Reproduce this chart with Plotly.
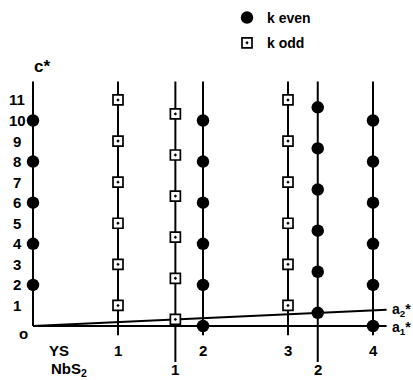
import plotly.graph_objects as go

# ---------------- data ----------------
# YS reciprocal-lattice rows: h index and the c* (l) values carrying a spot
ys_h = [0, 1, 2, 3, 4]
ys_l = {
    0: [2, 4, 6, 8, 10],
    1: [1, 3, 5, 7, 9, 11],
    2: [0, 2, 4, 6, 8, 10],
    3: [1, 3, 5, 7, 9, 11],
    4: [0, 2, 4, 6, 8, 10],
}
ys_kind = {0: "even", 1: "odd", 2: "even", 3: "odd", 4: "even"}

# NbS2 rows (measured from the a2* axis along c*)
nbs2_h = [1, 2]
nbs2_l = {
    1: [0, 2, 4, 6, 8, 10],
    2: [0, 2, 4, 6, 8, 10],
}
nbs2_kind = {1: "odd", 2: "even"}

# lattice geometry, in YS units
nbs2_a = 1.675      # NbS2 a* length measured in YS a* units
nbs2_rise = 0.32    # c* rise of the a2* axis per NbS2 a*
c_top = 11.9        # top end of the rods
ys_bottom = -0.45   # bottom end of the YS rods (h >= 1)
nbs2_bottom = -1.75 # bottom end of the NbS2 rods
axis_end = 4.16     # end of the a1* / a2* axes

c_ticks = [1, 2, 3, 4, 5, 6, 7, 8, 9, 10, 11]
c_ticktext = [str(v) for v in c_ticks]
ys_ticks = [1, 2, 3, 4]
nbs2_ticks = [1, 2]

# ---------------- figure ----------------
W, H = 413, 380
x0_px, y0_px = 33, 326
sx, sy = 85.0, 20.55
xr = [-x0_px / sx, (W - x0_px) / sx]
yr = [(y0_px - H) / sy, y0_px / sy]

FONT = "Liberation Sans, Arial, Helvetica, sans-serif"
LW = 2

fig = go.Figure()

def rod(x, y0, y1):
    fig.add_trace(go.Scatter(x=[x, x], y=[y0, y1], mode="lines",
                             line=dict(color="black", width=LW),
                             showlegend=False, hoverinfo="skip"))

# c* axis and YS rods
for h in ys_h:
    rod(h * 1.0, 0 if h == 0 else ys_bottom, c_top)

# a1* and a2* axes
fig.add_trace(go.Scatter(x=[0, axis_end], y=[0, 0], mode="lines",
                         line=dict(color="black", width=LW),
                         showlegend=False, hoverinfo="skip"))
fig.add_trace(go.Scatter(x=[0, axis_end], y=[0, axis_end * nbs2_rise / nbs2_a],
                         mode="lines", line=dict(color="black", width=LW),
                         showlegend=False, hoverinfo="skip"))

# NbS2 rods
for h in nbs2_h:
    rod(h * nbs2_a, nbs2_bottom, c_top)

# collect spots
pts = {"even": ([], []), "odd": ([], [])}
for h in ys_h:
    for l in ys_l[h]:
        pts[ys_kind[h]][0].append(h * 1.0)
        pts[ys_kind[h]][1].append(l)
for h in nbs2_h:
    base = h * nbs2_rise
    for l in nbs2_l[h]:
        pts[nbs2_kind[h]][0].append(h * nbs2_a)
        pts[nbs2_kind[h]][1].append(base + l)

fig.add_trace(go.Scatter(x=pts["even"][0], y=pts["even"][1], mode="markers",
                         name="k even", legendgroup="e",
                         marker=dict(symbol="circle", size=12.5, color="black",
                                     line=dict(width=0)),
                         cliponaxis=False))
fig.add_trace(go.Scatter(x=pts["odd"][0], y=pts["odd"][1], mode="markers",
                         name="k odd", legendgroup="o",
                         marker=dict(symbol="square-dot", size=10, color="white",
                                     line=dict(width=1.7, color="black")),
                         cliponaxis=False))

ann = []
def txt(x, y, s, size=15, xs=0, ys=0, xanchor="center"):
    ann.append(dict(x=x, y=y, text=s, showarrow=False, xshift=xs, yshift=ys,
                    xanchor=xanchor, yanchor="middle",
                    font=dict(family=FONT, size=size, color="black", weight="bold")))

# c* tick labels
for v, t in zip(c_ticks, c_ticktext):
    txt(0, v, t, xs=-16)
txt(0, 0, "o", xs=-10, ys=-7)
txt(0, c_top, "c*", size=17, xs=9, ys=15)

# a* labels
txt(axis_end, 0, "a<sub>1</sub>*", size=14, xs=3, ys=-2, xanchor="left")
txt(axis_end, axis_end * nbs2_rise / nbs2_a, "a<sub>2</sub>*", size=14,
    xs=3, ys=0, xanchor="left")

# YS / NbS2 index rows
ys_row = (y0_px - 350) / sy
nb_row = (y0_px - 369) / sy
txt(0, ys_row, "YS", size=15, xs=26)
for h in ys_ticks:
    txt(h, ys_row, str(h))
txt(0, nb_row, "NbS<sub>2</sub>", size=15, xs=36)
for h in nbs2_ticks:
    txt(h * nbs2_a, nb_row, str(h))

fig.update_layout(
    width=W, height=H, autosize=False,
    margin=dict(l=0, r=0, t=0, b=0),
    paper_bgcolor="white", plot_bgcolor="white",
    xaxis=dict(range=xr, visible=False, fixedrange=True),
    yaxis=dict(range=yr, visible=False, fixedrange=True),
    annotations=ann,
    showlegend=True,
    legend=dict(x=(247 - 20) / W, y=1 - 2 / H, xanchor="left", yanchor="top",
                font=dict(family=FONT, size=14, color="black", weight="bold"),
                tracegroupgap=4, bgcolor="rgba(0,0,0,0)", itemclick=False),
)

fig.write_html("out.html", config={"displayModeBar": False},
               post_script="document.body.style.margin='0';")
